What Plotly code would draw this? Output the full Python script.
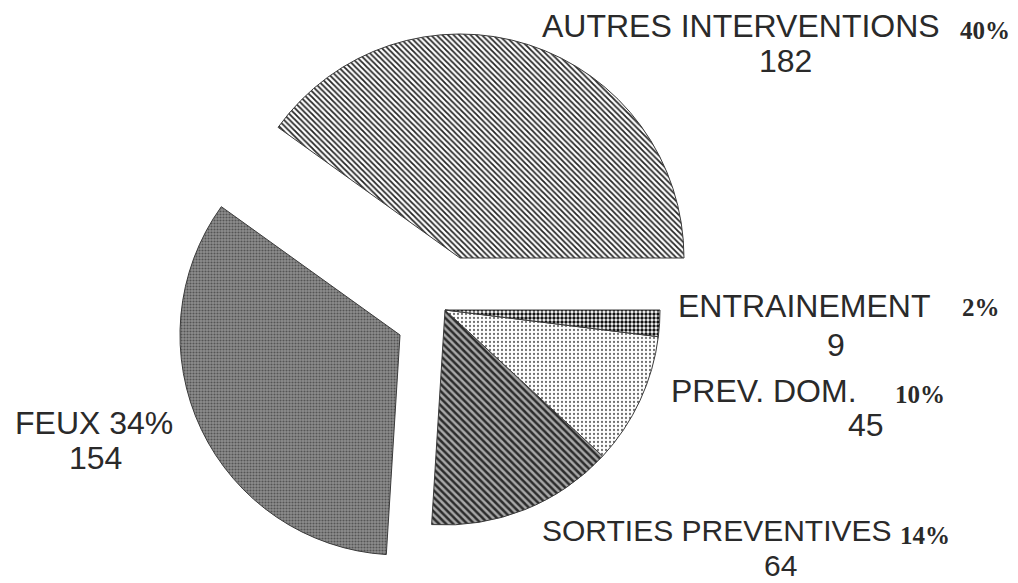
import plotly.graph_objects as go

# Intervention counts by category
categories = ["AUTRES INTERVENTIONS", "FEUX", "SORTIES PREVENTIVES", "PREV. DOM.", "ENTRAINEMENT"]
counts = [182, 154, 64, 45, 9]

total = sum(counts)
percents = [round(100 * v / total) for v in counts]

W, H = 1018, 583

# Slices are exploded in three groups: each group is its own pie trace
# (same values and rotation), showing only that group's slices.
groups = [[0], [1], [2, 3, 4]]
group_geom = [  # centre x, centre y, radius (px)
    (460, 258, 224),
    (400, 335, 220),
    (445, 310, 215),
]

# Counter-clockwise pies put the first slice clockwise of `rotation`;
# this puts the boundary between the first and last slice at 3 o'clock.
rotation = 90 - 360 * counts[0] / total

# Fill style per slice: background, pattern shape, foreground, size, solidity
styles = [
    ("#ffffff", "\\", "#262626", 4, 0.45),
    ("#8e8e8e", ".", "#555555", 3, 0.4),
    ("#a8a8a8", "\\", "#2c2c2c", 5, 0.5),
    ("#ffffff", ".", "#707070", 4, 0.25),
    ("#ffffff", ".", "#111111", 4, 0.55),
]

fig = go.Figure()
for members, (cx, cy, r) in zip(groups, group_geom):
    colors, shapes, fgs, bgs, sizes, sols, lcol, lw = [], [], [], [], [], [], [], []
    for i in range(len(counts)):
        if i in members:
            bg, sh, fg, sz, so = styles[i]
            colors.append(bg); bgs.append(bg); shapes.append(sh); fgs.append(fg)
            sizes.append(sz); sols.append(so)
            lcol.append("#3a3a3a"); lw.append(1)
        else:
            clear = "rgba(0,0,0,0)"
            colors.append(clear); bgs.append(clear); shapes.append(""); fgs.append(clear)
            sizes.append(4); sols.append(0.3)
            lcol.append(clear); lw.append(0)
    fig.add_trace(go.Pie(
        labels=categories,
        values=counts,
        sort=False,
        direction="counterclockwise",
        rotation=rotation,
        textinfo="none",
        hoverinfo="skip",
        showlegend=False,
        marker=dict(
            colors=colors,
            line=dict(color=lcol, width=lw),
            pattern=dict(shape=shapes, fgcolor=fgs, bgcolor=bgs, size=sizes,
                         solidity=sols, fillmode="replace"),
        ),
        domain=dict(
            x=[(cx - r) / W, (cx + r) / W],
            y=[1 - (cy + r) / H, 1 - (cy - r) / H],
        ),
    ))

SANS = dict(family="Liberation Sans, Arial, sans-serif", size=32, color="#2a2a2a")
SANS_LOW = dict(SANS, size=30)
SERIF = dict(family="Liberation Serif, serif", size=25, color="#2a2a2a", weight="bold")

# Label placement (px): name line, percent, count line, font
label_pos = {
    0: dict(name=(741, 26), pct=(985, 30), num=(785, 61), font=SANS),
    1: dict(name=(94, 423), pct=None, num=(95, 458), font=SANS),
    2: dict(name=(717, 530), pct=(925, 535), num=(780, 565), font=SANS_LOW),
    3: dict(name=(764, 391), pct=(920, 394), num=(866, 425), font=SANS),
    4: dict(name=(804, 306), pct=(981, 307), num=(836, 345), font=SANS),
}


def add_text(text, pos, font):
    fig.add_annotation(
        x=pos[0] / W, y=1 - pos[1] / H, xref="paper", yref="paper",
        text=text, showarrow=False, xanchor="center", yanchor="middle", font=font,
        borderpad=0,
    )


for i, name in enumerate(categories):
    p = label_pos[i]
    if p["pct"] is None:
        add_text(f"{name} {percents[i]}%", p["name"], p["font"])
    else:
        add_text(name, p["name"], p["font"])
        add_text(f"{percents[i]}%", p["pct"], SERIF)
    add_text(str(counts[i]), p["num"], p["font"])

fig.update_layout(
    width=W, height=H,
    margin=dict(l=0, r=0, t=0, b=0),
    paper_bgcolor="white",
    plot_bgcolor="white",
)

fig.write_html("out.html")
